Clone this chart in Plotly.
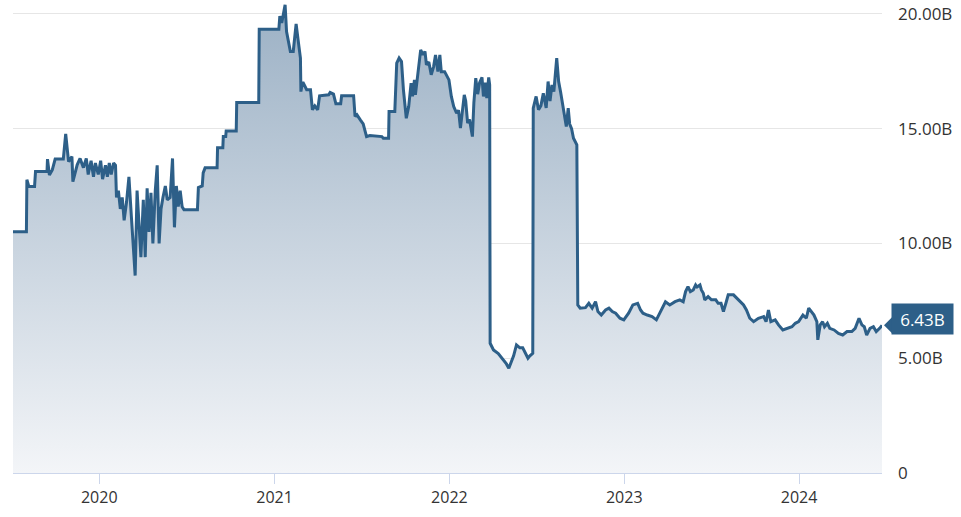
import plotly.graph_objects as go

# market value series, billions
dates = [
    "2019-07-05", "2019-08-02", "2019-08-03", "2019-08-07", "2019-08-19", "2019-08-21",
    "2019-09-14", "2019-09-15", "2019-09-19", "2019-09-25", "2019-10-01", "2019-10-18",
    "2019-10-23", "2019-10-29", "2019-11-05", "2019-11-07", "2019-11-16", "2019-11-22",
    "2019-11-29", "2019-12-05", "2019-12-09", "2019-12-15", "2019-12-20", "2019-12-24",
    "2019-12-30", "2020-01-04", "2020-01-08", "2020-01-14", "2020-01-18", "2020-01-22",
    "2020-01-26", "2020-01-31", "2020-02-04", "2020-02-06", "2020-02-10", "2020-02-14",
    "2020-02-18", "2020-02-22", "2020-02-27", "2020-03-03", "2020-03-08", "2020-03-12",
    "2020-03-16", "2020-03-20", "2020-03-24", "2020-03-28", "2020-04-02", "2020-04-06",
    "2020-04-10", "2020-04-14", "2020-04-18", "2020-04-22", "2020-04-27", "2020-05-01",
    "2020-05-05", "2020-05-09", "2020-05-13", "2020-05-18", "2020-05-22", "2020-05-28",
    "2020-06-02", "2020-06-06", "2020-06-10", "2020-06-14", "2020-06-18", "2020-06-22",
    "2020-06-26", "2020-07-24", "2020-07-26", "2020-08-03", "2020-08-05", "2020-08-09",
    "2020-09-03", "2020-09-04", "2020-09-15", "2020-09-16", "2020-09-21", "2020-09-22",
    "2020-10-13", "2020-10-14", "2020-11-29", "2020-11-30", "2021-01-10", "2021-01-12",
    "2021-01-16", "2021-01-23", "2021-01-26", "2021-02-03", "2021-02-09", "2021-02-15",
    "2021-02-20", "2021-02-24", "2021-02-25", "2021-02-28", "2021-03-02", "2021-03-09",
    "2021-03-17", "2021-03-21", "2021-03-26", "2021-04-01", "2021-04-05", "2021-04-24",
    "2021-04-27", "2021-05-04", "2021-05-09", "2021-05-19", "2021-05-21", "2021-06-15",
    "2021-06-18", "2021-06-22", "2021-06-29", "2021-07-05", "2021-07-12", "2021-07-19",
    "2021-08-13", "2021-08-16", "2021-08-27", "2021-08-28", "2021-09-09", "2021-09-13",
    "2021-09-18", "2021-09-23", "2021-09-27", "2021-10-03", "2021-10-08", "2021-10-13",
    "2021-10-16", "2021-10-20", "2021-10-22", "2021-10-29", "2021-11-02", "2021-11-07",
    "2021-11-11", "2021-11-14", "2021-11-19", "2021-11-24", "2021-11-29", "2021-12-03",
    "2021-12-08", "2021-12-12", "2021-12-15", "2021-12-22", "2021-12-26", "2021-12-31",
    "2022-01-05", "2022-01-10", "2022-01-16", "2022-01-20", "2022-01-24", "2022-02-01",
    "2022-02-04", "2022-02-08", "2022-02-12", "2022-02-18", "2022-02-21", "2022-02-25",
    "2022-03-01", "2022-03-05", "2022-03-10", "2022-03-13", "2022-03-17", "2022-03-20",
    "2022-03-24", "2022-03-26", "2022-03-27", "2022-04-03", "2022-04-13", "2022-04-24",
    "2022-04-30", "2022-05-05", "2022-05-11", "2022-05-15", "2022-05-21", "2022-05-28",
    "2022-06-03", "2022-06-08", "2022-06-14", "2022-06-18", "2022-06-24", "2022-06-25",
    "2022-07-01", "2022-07-06", "2022-07-11", "2022-07-16", "2022-07-22", "2022-07-26",
    "2022-07-30", "2022-08-03", "2022-08-07", "2022-08-13", "2022-08-17", "2022-08-21",
    "2022-08-25", "2022-08-29", "2022-09-02", "2022-09-06", "2022-09-09", "2022-09-13",
    "2022-09-17", "2022-09-24", "2022-09-26", "2022-10-01", "2022-10-12", "2022-10-19",
    "2022-10-26", "2022-11-02", "2022-11-07", "2022-11-14", "2022-11-23", "2022-11-30",
    "2022-12-07", "2022-12-14", "2022-12-23", "2022-12-31", "2023-01-10", "2023-01-19",
    "2023-01-29", "2023-02-04", "2023-02-09", "2023-02-18", "2023-02-28", "2023-03-09",
    "2023-03-16", "2023-03-23", "2023-03-28", "2023-04-06", "2023-04-17", "2023-04-27",
    "2023-05-04", "2023-05-09", "2023-05-14", "2023-05-19", "2023-05-25", "2023-05-30",
    "2023-06-02", "2023-06-08", "2023-06-11", "2023-06-15", "2023-06-18", "2023-06-25",
    "2023-07-02", "2023-07-11", "2023-07-16", "2023-07-22", "2023-07-27", "2023-08-02",
    "2023-08-06", "2023-08-17", "2023-08-24", "2023-08-31", "2023-09-07", "2023-09-13",
    "2023-09-20", "2023-09-28", "2023-10-08", "2023-10-19", "2023-10-24", "2023-10-29",
    "2023-11-03", "2023-11-12", "2023-11-19", "2023-11-28", "2023-12-07", "2023-12-17",
    "2023-12-24", "2023-12-31", "2024-01-09", "2024-01-16", "2024-01-21", "2024-01-26",
    "2024-02-01", "2024-02-07", "2024-02-09", "2024-02-14", "2024-02-19", "2024-02-23",
    "2024-02-29", "2024-03-05", "2024-03-14", "2024-03-23", "2024-04-01", "2024-04-10",
    "2024-04-20", "2024-04-27", "2024-05-01", "2024-05-05", "2024-05-11", "2024-05-16",
    "2024-05-21", "2024-05-28", "2024-06-04", "2024-06-10", "2024-06-17", "2024-06-22",
]

values_bn = [
    10.51, 10.51, 12.77, 12.48, 12.48, 13.13,
    13.13, 13.67, 12.98, 13.20, 13.67, 13.67,
    14.77, 13.56, 13.78, 12.69, 13.42, 13.70,
    13.30, 13.70, 13.00, 13.60, 12.90, 13.50,
    13.00, 13.60, 12.80, 13.40, 12.90, 13.50,
    13.00, 13.50, 13.40, 12.00, 12.30, 11.50,
    12.00, 11.00, 11.80, 12.90, 11.20, 9.70,
    8.60, 12.30, 10.50, 9.40, 11.90, 9.40,
    12.40, 10.50, 12.20, 10.00, 12.30, 13.40,
    10.00, 11.50, 12.00, 12.50, 11.90, 12.00,
    13.70, 10.70, 12.50, 11.60, 12.30, 11.60,
    11.46, 11.46, 12.43, 12.50, 13.07, 13.29,
    13.29, 14.16, 14.16, 14.65, 14.65, 14.90,
    14.90, 16.14, 16.14, 19.33, 19.33, 19.90,
    19.60, 20.39, 19.23, 18.36, 18.36, 19.56,
    18.72, 18.07, 16.61, 16.98, 16.98, 16.69,
    16.69, 15.82, 15.99, 15.82, 16.43, 16.47,
    16.57, 16.50, 16.08, 16.08, 16.43, 16.43,
    15.53, 15.60, 15.38, 15.20, 14.65, 14.70,
    14.65, 14.58, 14.58, 15.74, 15.74, 17.85,
    18.07, 17.92, 16.69, 15.45, 15.96, 16.98,
    16.40, 17.12, 16.47, 17.63, 18.43, 18.21,
    18.36, 17.78, 17.90, 17.34, 17.70, 18.21,
    17.48, 18.21, 17.48, 17.48, 17.34, 17.12,
    16.40, 15.96, 15.67, 15.80, 15.02, 16.47,
    16.20, 15.24, 15.40, 14.65, 16.11, 17.20,
    16.50, 17.00, 17.23, 16.40, 17.00, 16.33,
    17.23, 16.90, 5.65, 5.36, 5.20, 4.92,
    4.75, 4.56, 4.92, 5.10, 5.58, 5.45,
    5.45, 5.21, 5.00, 5.10, 5.21, 15.89,
    16.40, 15.82, 16.00, 16.54, 15.90, 17.05,
    16.20, 16.90, 16.61, 18.07, 17.05, 16.60,
    16.04, 15.53, 15.09, 15.89, 15.20, 15.00,
    14.58, 14.29, 7.32, 7.18, 7.20, 7.39,
    7.18, 7.46, 7.03, 6.88, 7.10, 7.18,
    7.03, 6.96, 6.74, 6.67, 6.96, 7.32,
    7.39, 7.10, 6.96, 6.88, 6.81, 6.67,
    6.96, 7.18, 7.46, 7.32, 7.46, 7.54,
    7.46, 7.90, 8.12, 7.90, 7.97, 8.19,
    8.10, 8.19, 7.97, 7.83, 7.54, 7.68,
    7.54, 7.54, 7.39, 7.39, 7.03, 7.46,
    7.76, 7.76, 7.61, 7.46, 7.32, 7.10,
    6.74, 6.59, 6.74, 6.81, 6.59, 7.10,
    6.59, 6.67, 6.45, 6.23, 6.30, 6.37,
    6.52, 6.59, 6.88, 6.74, 7.18, 7.03,
    6.88, 6.59, 5.80, 6.45, 6.59, 6.37,
    6.52, 6.30, 6.23, 6.08, 6.01, 6.16,
    6.16, 6.30, 6.52, 6.74, 6.45, 6.37,
    6.01, 6.30, 6.37, 6.16, 6.30, 6.43,
]

y_ticks = [0, 5, 10, 15, 20]
y_tick_text = ["0", "5.00B", "10.00B", "15.00B", "20.00B"]
last_label = "6.43B"

LINE = "#2d5f88"
FONT = "Open Sans, Segoe UI, sans-serif"

fig = go.Figure()
fig.add_trace(
    go.Scatter(
        x=dates,
        y=values_bn,
        mode="lines",
        line=dict(color=LINE, width=3),
        fill="tozeroy",
        fillgradient=dict(
            type="vertical",
            colorscale=[[0, "#f3f5f8"], [1, "#9cb1c5"]],
            start=0,
            stop=20.4,
        ),
        hoverinfo="skip",
        showlegend=False,
    )
)

# last-value badge with a little pointer on the right edge
fig.add_annotation(
    x=1, xref="paper", xanchor="left", xshift=9,
    y=values_bn[-1], yref="y", yanchor="middle", yshift=6,
    text=last_label, showarrow=False,
    font=dict(family=FONT, size=17, color="white"),
    bgcolor=LINE, borderpad=4, width=53, height=22,
)
fig.add_shape(
    type="path", xref="paper", yref="y",
    xsizemode="pixel", ysizemode="pixel",
    xanchor=1, yanchor=values_bn[-1],
    path="M 2,0 L 10,8 L 10,-8 Z",
    fillcolor=LINE, line=dict(width=0),
)

fig.update_layout(
    width=961,
    height=517,
    margin=dict(l=13, r=79, t=0, b=44),
    paper_bgcolor="white",
    plot_bgcolor="white",
    font=dict(family=FONT, color="#333333"),
    xaxis=dict(
        type="date",
        range=["2019-07-05", "2024-06-22"],
        tick0="2020-01-01",
        dtick="M12",
        tickformat="%Y",
        showgrid=False,
        showline=True,
        linecolor="#ccd6eb",
        linewidth=1,
        ticks="outside",
        ticklen=10,
        tickcolor="#ccd6eb",
        tickfont=dict(size=16, color="#333333"),
        zeroline=False,
    ),
    yaxis=dict(
        side="right",
        range=[0, 20.6],
        tickvals=y_ticks,
        ticktext=y_tick_text,
        showgrid=True,
        gridcolor="#e6e6e6",
        gridwidth=1,
        zeroline=False,
        ticks="",
        ticklabelstandoff=15,
        tickfont=dict(size=17, color="#333333"),
    ),
)

# drop the default page margin so the figure sits at the window's corner
fig.write_html(
    "out.html",
    config={"displayModeBar": False},
    post_script="document.body.style.margin='0';",
)
